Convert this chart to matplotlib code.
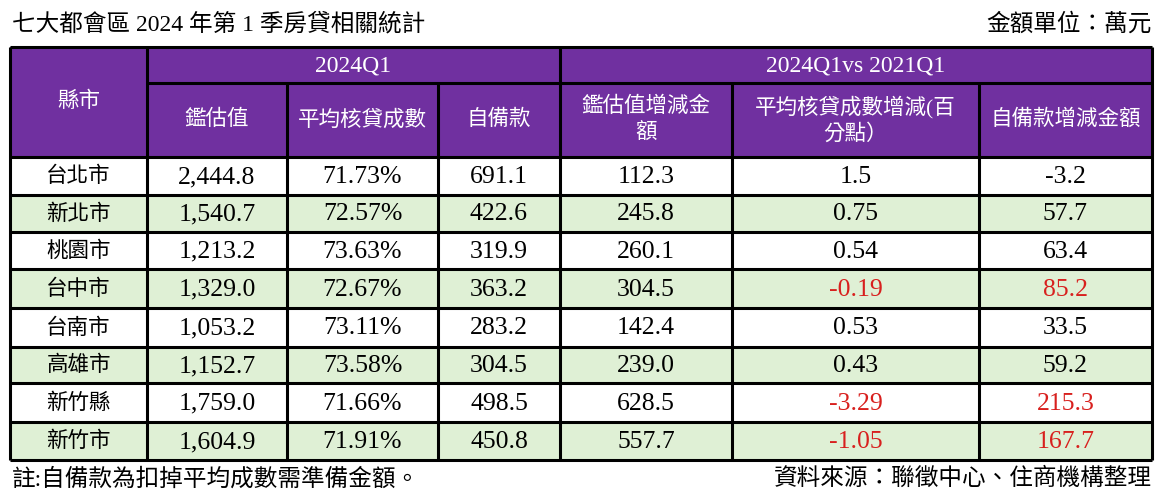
import matplotlib.pyplot as plt
from matplotlib.patches import Rectangle

# 七大都會區 2024Q1 房貸相關統計
cities = ['台北市', '新北市', '桃園市', '台中市', '台南市', '高雄市', '新竹縣', '新竹市']
appraisal = [2444.8, 1540.7, 1213.2, 1329.0, 1053.2, 1152.7, 1759.0, 1604.9]
ltv = [71.73, 72.57, 73.63, 72.67, 73.11, 73.58, 71.66, 71.91]
down_pay = [691.1, 422.6, 319.9, 363.2, 283.2, 304.5, 498.5, 450.8]
appraisal_chg = [112.3, 245.8, 260.1, 304.5, 142.4, 239.0, 628.5, 557.7]
ltv_chg = [1.5, 0.75, 0.54, -0.19, 0.53, 0.43, -3.29, -1.05]
down_pay_chg = [-3.2, 57.7, 63.4, 85.2, 33.5, 59.2, 215.3, 167.7]

col_headers = ['鑑估值', '平均核貸成數', '自備款',
               '鑑估值增減金\n額', '平均核貸成數增減(百\n分點）', '自備款增減金額']
group_headers = ['2024Q1', '2024Q1vs 2021Q1']

# 版面 (像素)
W, H = 1166, 499
col_x = [10, 147, 287, 438, 560, 732, 979, 1152]
row_y = [47, 83, 157, 195, 232, 269, 308, 347, 383, 422, 460]

purple = '#7030A0'
green = '#DFF0D5'
red = '#D8201E'
fam = ['Liberation Serif', 'Noto Sans CJK TC']
cjk_size = 15.5
num_size = 18.5

fig = plt.figure(figsize=(W / 100, H / 100), dpi=100)
ax = fig.add_axes([0, 0, 1, 1])
ax.set_xlim(0, W)
ax.set_ylim(H, 0)
ax.axis('off')

# 表頭底色
ax.add_patch(Rectangle((col_x[0], row_y[0]), col_x[-1] - col_x[0], row_y[2] - row_y[0],
                       facecolor=purple, edgecolor='none'))

# 資料列底色
for i in range(len(cities)):
    if i % 2 == 1:
        y0 = row_y[i + 2]
        ax.add_patch(Rectangle((col_x[0], y0), col_x[-1] - col_x[0], row_y[i + 3] - y0,
                               facecolor=green, edgecolor='none'))

# 表頭文字
ax.text((col_x[0] + col_x[1]) / 2, (row_y[0] + row_y[2]) / 2, '縣市', color='white',
        family=fam, size=cjk_size, ha='center', va='center')
ax.text((col_x[1] + col_x[4]) / 2, (row_y[0] + row_y[1]) / 2 + 1, group_headers[0], color='white',
        family=fam, size=17, ha='center', va='center')
ax.text((col_x[4] + col_x[7]) / 2, (row_y[0] + row_y[1]) / 2 + 1, group_headers[1], color='white',
        family=fam, size=17, ha='center', va='center')
for j, h in enumerate(col_headers):
    ax.text((col_x[j + 1] + col_x[j + 2]) / 2, (row_y[1] + row_y[2]) / 2, h, color='white',
            family=fam, size=cjk_size, ha='center', va='center', linespacing=1.35)

# 資料
for i, city in enumerate(cities):
    yc = (row_y[i + 2] + row_y[i + 3]) / 2
    neg = ltv_chg[i] < 0
    cells = [
        (city, 'black', cjk_size),
        (f'{appraisal[i]:,.1f}', 'black', num_size),
        (f'{ltv[i]:.2f}%', 'black', num_size),
        (f'{down_pay[i]:.1f}', 'black', num_size),
        (f'{appraisal_chg[i]:.1f}', 'black', num_size),
        (f'{ltv_chg[i]:g}', red if neg else 'black', num_size),
        (f'{down_pay_chg[i]:.1f}', red if neg else 'black', num_size),
    ]
    for j, (txt, c, s) in enumerate(cells):
        ax.text((col_x[j] + col_x[j + 1]) / 2, yc + 1, txt, color=c, family=fam, size=s,
                ha='center', va='center')

# 格線
lw = 2.2
ax.hlines([row_y[0]], col_x[0], col_x[-1], color='black', lw=lw)
ax.hlines([row_y[1]], col_x[1], col_x[-1], color='black', lw=lw)
ax.hlines(row_y[2:], col_x[0], col_x[-1], color='black', lw=lw)
ax.vlines([col_x[0], col_x[1], col_x[4], col_x[7]], row_y[0], row_y[-1], color='black', lw=lw)
ax.vlines([col_x[2], col_x[3], col_x[5], col_x[6]], row_y[1], row_y[-1], color='black', lw=lw)

# 標題與註記
ax.text(12, 24, '七大都會區 2024 年第 1 季房貸相關統計', family=fam, size=17,
        ha='left', va='center')
ax.text(1152, 24, '金額單位：萬元', family=fam, size=17, ha='right', va='center')
ax.text(12, 479, '註:自備款為扣掉平均成數需準備金額。', family=fam, size=17,
        ha='left', va='center')
ax.text(1152, 479, '資料來源：聯徵中心、住商機構整理', family=fam, size=17,
        ha='right', va='center')

fig.savefig('out.png', dpi=100)
